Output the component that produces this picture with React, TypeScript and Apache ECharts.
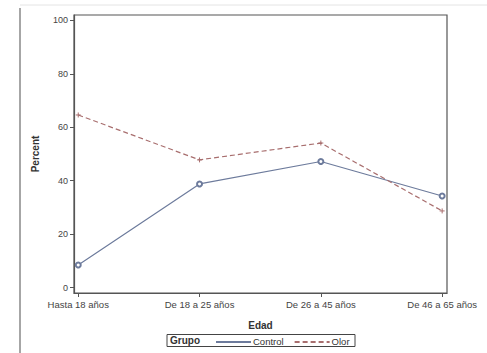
import React, { useEffect, useRef } from "react";
import * as echarts from "echarts";

const categories = ["Hasta 18 años", "De 18 a 25 años", "De 26 a 45 años", "De 46 a 65 años"];
const controlValues = [8.5, 38.8, 47.2, 34.3];
const olorValues = [64.6, 47.8, 54.1, 28.7];
const yTicks = [0, 20, 40, 60, 80, 100];

const FONT = "Liberation Sans";

export default function App() {
  const ref = useRef<HTMLDivElement>(null);
  useEffect(() => {
    if (!ref.current) return;
    const chart = echarts.init(ref.current, null, { renderer: "svg" });
    chart.setOption({
      animation: false,
      backgroundColor: "#ffffff",
      textStyle: { fontFamily: FONT },
      grid: { left: 74, top: 15, width: 373, height: 278 },
      xAxis: {
        type: "value",
        min: -0.035,
        max: 3.04,
        splitLine: { show: false },
        axisLine: { show: true, onZero: false, lineStyle: { color: "#555", width: 1.2 } },
        axisTick: { show: true, customValues: [0, 1, 2, 3], length: 4, lineStyle: { color: "#555" } },
        axisLabel: {
          customValues: [0, 1, 2, 3],
          formatter: (v: number) => categories[Math.round(v)],
          color: "#444",
          fontSize: 9.5,
          fontFamily: FONT,
          margin: 6,
        },
        name: "Edad",
        nameLocation: "middle",
        nameGap: 27,
        nameTextStyle: { fontWeight: "bold", fontSize: 10, color: "#333", fontFamily: FONT },
      },
      yAxis: {
        type: "value",
        min: -2,
        max: 102,
        splitLine: { show: false },
        axisLine: { show: true, onZero: false, lineStyle: { color: "#555", width: 1.2 } },
        axisTick: { show: true, customValues: yTicks, length: 4, lineStyle: { color: "#555" } },
        axisLabel: { customValues: yTicks, color: "#444", fontSize: 9, fontFamily: FONT, margin: 6 },
        name: "Percent",
        nameLocation: "middle",
        nameGap: 34,
        nameRotate: 90,
        nameTextStyle: { fontWeight: "bold", fontSize: 10, color: "#333", fontFamily: FONT },
      },
      legend: {
        left: 215,
        top: 335,
        padding: 0,
        itemGap: 10,
        itemWidth: 35,
        itemHeight: 11,
        textStyle: { fontSize: 9.5, color: "#333", fontFamily: FONT, padding: [0, 0, 0, -3] },
        itemStyle: { opacity: 0 },
        data: ["Control", "Olor"],
      },
      series: [
        {
          name: "Control",
          type: "line",
          data: controlValues.map((v, i) => [i, v]),
          symbol: "emptyCircle",
          symbolSize: 5,
          lineStyle: { color: "#6d7b9c", width: 1.2, type: "solid" },
          itemStyle: { color: "#6d7b9c", borderWidth: 1 },
        },
        {
          name: "Olor",
          type: "line",
          data: olorValues.map((v, i) => [i, v]),
          symbol: "path://M-1,0L1,0M0,-1L0,1",
          symbolSize: 5,
          lineStyle: { color: "#a86e6e", width: 1.2, type: [5, 3] },
          itemStyle: { color: "none", borderColor: "#a86e6e", borderWidth: 1 },
        },
      ],
      graphic: [
        { type: "rect", shape: { x: 74, y: 15, width: 373, height: 278 }, style: { fill: "none", stroke: "#555", lineWidth: 1.2 }, silent: true },
        { type: "line", shape: { x1: 20, y1: 8, x2: 20, y2: 353 }, style: { stroke: "#888", lineWidth: 1.5 } },
        { type: "line", shape: { x1: 20, y1: 5, x2: 487, y2: 5 }, style: { stroke: "#e4e4e4", lineWidth: 1 } },
        { type: "rect", shape: { x: 167, y: 334.5, width: 188, height: 12 }, style: { fill: "none", stroke: "#444", lineWidth: 1 } },
        { type: "text", x: 170, y: 335.5, style: { text: "Grupo", font: `bold 10px "${FONT}"`, fill: "#333" } },
      ],
    });
    return () => chart.dispose();
  }, []);
  return <div ref={ref} style={{ position: "fixed", left: 0, top: 0, width: 487, height: 353 }} />;
}
